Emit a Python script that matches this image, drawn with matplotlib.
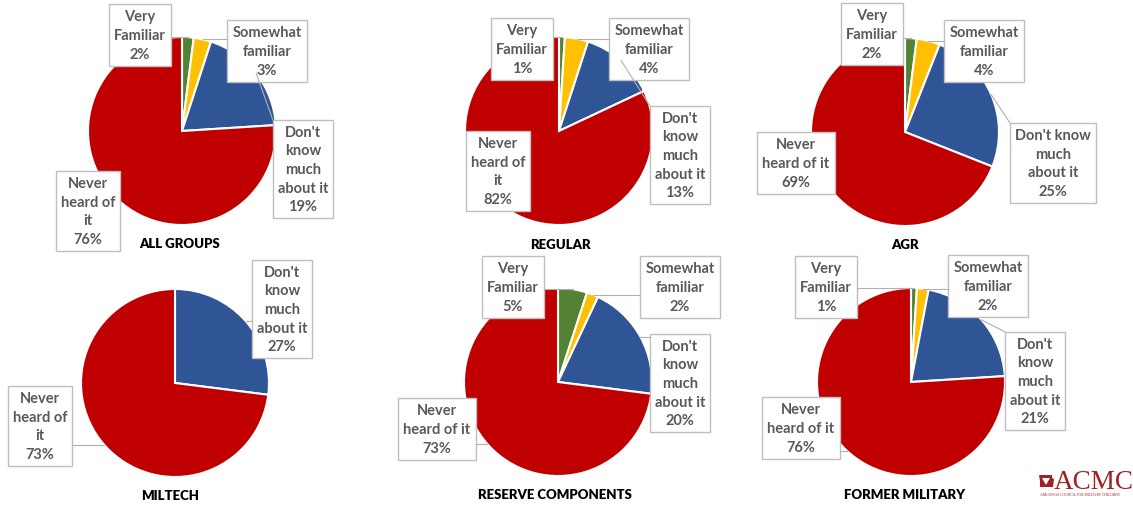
import matplotlib
matplotlib.use("Agg")
import matplotlib.pyplot as plt
from matplotlib.patches import Polygon
import numpy as np

# ---------------- data ----------------
groups = ["ALL GROUPS", "REGULAR", "AGR", "MILTECH", "RESERVE COMPONENTS", "FORMER MILITARY"]
categories = ["Very Familiar", "Somewhat familiar", "Don't know much about it", "Never heard of it"]
very_familiar = [2, 1, 2, 0, 5, 1]
somewhat_familiar = [3, 4, 4, 0, 2, 2]
dont_know = [19, 13, 25, 27, 20, 21]
never_heard = [76, 82, 69, 73, 73, 76]

colors = ["#548235", "#FFC000", "#2F5597", "#C00000"]

# label wrapping per chart (as in the original)
wraps = [
    ["Very\nFamiliar", "Somewhat\nfamiliar", "Don't\nknow\nmuch\nabout it", "Never\nheard of\nit"],
    ["Very\nFamiliar", "Somewhat\nfamiliar", "Don't\nknow\nmuch\nabout it", "Never\nheard of\nit"],
    ["Very\nFamiliar", "Somewhat\nfamiliar", "Don't know\nmuch\nabout it", "Never\nheard of it"],
    ["Very\nFamiliar", "Somewhat\nfamiliar", "Don't\nknow\nmuch\nabout it", "Never\nheard of\nit"],
    ["Very\nFamiliar", "Somewhat\nfamiliar", "Don't\nknow\nmuch\nabout it", "Never\nheard of it"],
    ["Very\nFamiliar", "Somewhat\nfamiliar", "Don't\nknow\nmuch\nabout it", "Never\nheard of it"],
]

# ---------------- layout (pixel coords, y from top) ----------------
W, H = 1133, 506
centers = [(182, 132), (559, 132), (905, 133), (175, 384), (558, 383), (911, 383)]
radius = 94
title_pos = [(180, 244), (560, 245), (905, 245), (170, 496), (555, 495), (905, 495)]
label_pos = [
    [(140, 36), (267, 52), (303, 170), (88, 212)],
    [(522, 50), (649, 50), (680, 156), (498, 172)],
    [(872, 35), (984, 52), (1053, 164), (796, 164)],
    [None, None, (282, 310), (40, 427)],
    [(513, 288), (680, 288), (680, 384), (437, 430)],
    [(826, 288), (988, 287), (1035, 382), (801, 429)],
]

TEXT_GRAY = "#595959"
BOX_EDGE = "#BFBFBF"
LINE_GRAY = "#B0B0B0"
FONT = ["Lato", "DejaVu Sans"]

fig = plt.figure(figsize=(W / 100, H / 100), dpi=100)
ax = fig.add_axes([0, 0, 1, 1])

def Y(y):
    return H - y

all_texts = []
for i, g in enumerate(groups):
    vals = [very_familiar[i], somewhat_familiar[i], dont_know[i], never_heard[i]]
    cx, cy = centers[i]
    wedges, _ = ax.pie(vals, colors=colors, startangle=90, counterclock=False,
                       center=(cx, Y(cy)), radius=radius, frame=True,
                       wedgeprops=dict(edgecolor="white", linewidth=1.5))
    ax.text(title_pos[i][0], Y(title_pos[i][1]), g, ha="center", va="center",
            fontsize=9.5, fontweight="heavy", color="black", family=FONT)
    for k in range(4):
        if vals[k] == 0 or label_pos[i][k] is None:
            continue
        lx, ly = label_pos[i][k]
        t = ax.text(lx, Y(ly), f"{wraps[i][k]}\n{vals[k]}%", ha="center", va="center",
                    fontsize=10.5, fontweight="bold", color=TEXT_GRAY, family=FONT,
                    linespacing=1.42, zorder=5,
                    bbox=dict(boxstyle="square,pad=0.35", facecolor="white",
                              edgecolor=BOX_EDGE, linewidth=1.0))
        all_texts.append((t, wedges[k], (cx, Y(cy))))

ax.set_aspect("equal")
ax.set_xlim(0, W)
ax.set_ylim(0, H)
ax.axis("off")

# leader lines
fig.canvas.draw()
r = fig.canvas.get_renderer()
inv = ax.transData.inverted()
for t, w, (cx, cy) in all_texts:
    mid = np.deg2rad((w.theta1 + w.theta2) / 2.0)
    ex, ey = cx + radius * np.cos(mid), cy + radius * np.sin(mid)
    bb = t.get_bbox_patch().get_window_extent(r)
    (x0, y0), (x1, y1) = inv.transform([(bb.x0, bb.y0), (bb.x1, bb.y1)])
    px = min(max(ex, x0), x1)
    py = min(max(ey, y0), y1)
    d = np.hypot(ex - px, ey - py)
    if d < 4:
        continue
    ax.plot([px, ex], [py, ey], color=LINE_GRAY, linewidth=0.8, zorder=6)

# logo
ax.add_patch(Polygon([(1039, Y(476)), (1052, Y(476)), (1052, Y(479)), (1054, Y(480)),
                      (1053, Y(488)), (1040, Y(488)), (1040, Y(482))],
                     closed=True, facecolor="#A31F24", edgecolor="none", zorder=7))
ax.add_patch(Polygon([(1042, Y(479)), (1050, Y(479)), (1046, Y(486))], closed=True,
                     facecolor="white", edgecolor="none", zorder=8))
ax.text(1054, Y(489), "ACMC", ha="left", va="baseline", fontsize=19.5,
        family=["Liberation Serif", "DejaVu Serif"], color="#A31F24", zorder=7)
ax.text(1040, Y(495), "ARKANSAS COUNCIL FOR MILITARY CHILDREN", ha="left", va="center",
        fontsize=2.6, family=["Liberation Serif", "DejaVu Serif"], color="#A31F24", zorder=7)

fig.savefig("out.png", dpi=100, facecolor="white")
